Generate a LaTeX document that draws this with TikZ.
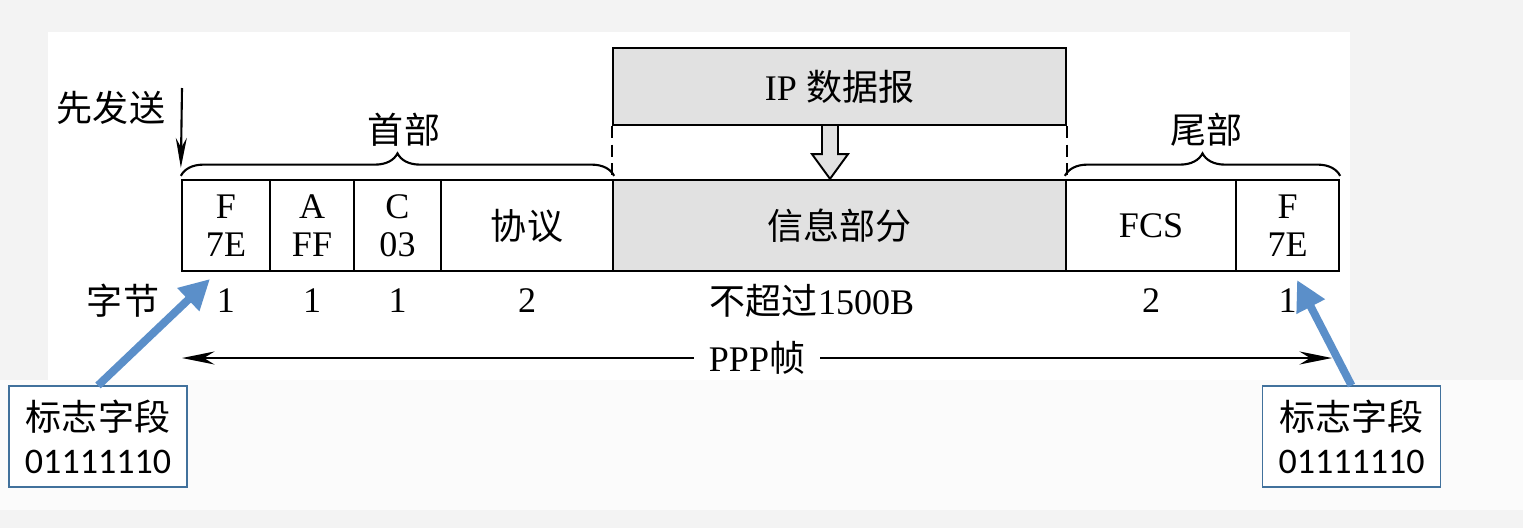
\documentclass[tikz,border=0pt]{standalone}
\usepackage{fontspec}
\setmainfont{Liberation Serif}
\newfontfamily\cjk{Noto Sans CJK SC}
\newfontfamily\tagfont{Carlito}
\usetikzlibrary{arrows.meta,decorations.pathreplacing,calc}

\definecolor{slidebg}{RGB}{243,243,243}
\definecolor{slidelow}{RGB}{251,251,251}
\definecolor{datagray}{RGB}{225,225,225}
\definecolor{tagblue}{RGB}{91,143,201}
\definecolor{tagedge}{RGB}{65,113,156}

\tikzset{
  cell/.style={draw, line width=1.3pt, inner sep=0pt, minimum height=1.82cm, align=center, font=\fontsize{20.5}{21.6}\selectfont},
  txt/.style={inner sep=0pt, font=\fontsize{20.5}{22}\selectfont},
  hbrace/.style={decorate, decoration={brace, amplitude=0.45cm}, line width=1.2pt},
  tagbox/.style={draw=tagedge, line width=0.6pt, fill=white, minimum width=3.56cm, minimum height=2.02cm, align=center, font=\fontsize{20.5}{24.5}\selectfont},
  tagarrow/.style={draw=tagblue, line width=4.5pt, -{Triangle[length=0.6cm,width=0.6cm]}},
  blackhead/.style={line width=1.2pt},
}

\begin{document}
\begin{tikzpicture}[x=0.02cm,y=-0.02cm]
	% slide background
	\fill[slidebg] (0,0) rectangle (1523,528);
	\fill[slidelow] (0,380) rectangle (1523,510);
	\fill[white] (48,32) rectangle (1350,380);
	% frame cells
	\node[cell, minimum width=1.76cm] (f1) at (226,225.5) {F\\7E};
	\node[cell, minimum width=1.68cm] (a) at (312,225.5) {A\\FF};
	\node[cell, minimum width=1.74cm] (c) at (397.5,225.5) {C\\03};
	\node[cell, minimum width=3.44cm] (proto) at (527,225.5) {\cjk 协议};
	\node[cell, fill=datagray, minimum width=9.06cm] (info) at (839.5,225.5) {\cjk 信息部分};
	\node[cell, minimum width=3.40cm] (fcs) at (1151,225.5) {FCS};
	\node[cell, minimum width=2.06cm] (f2) at (1287.5,225.5) {F\\7E};
	% ip datagram
	\node[cell, fill=datagray, minimum width=9.06cm, minimum height=1.54cm] (ip) at (839.5,86.5) {IP {\cjk 数据报}};
	\draw[line width=1.2pt, dash pattern=on 7pt off 3.5pt] (ip.south west) -- (info.north west);
	\draw[line width=1.2pt, dash pattern=on 7pt off 3.5pt] (ip.south east) -- (info.north east);
	\coordinate (top) at ($(ip.south)+(-9.5,0)$);
	\coordinate (tip) at ($(info.north)+(-9.5,0)$);
	\draw[line width=1.1pt, fill=datagray] ($(top)+(-8,0)$) -- ($(top)+(-8,28)$) -- ($(top)+(-18,28)$) -- (tip) -- ($(top)+(18,28)$) -- ($(top)+(8,28)$) -- ($(top)+(8,0)$);
	% braces
	\draw[hbrace] ($(f1.north west)+(0,-3)$) -- ($(proto.north east)+(0,-3)$);
	\draw[hbrace] ($(fcs.north west)+(0,-3)$) -- ($(f2.north east)+(0,-3)$);
	\node[txt] (head) at (404,130) {\cjk 首部};
	\node[txt] (tail) at (1206,130) {\cjk 尾部};
	% send first
	\node[txt] (send) at (111,108) {\cjk 先发送};
	\coordinate (sendtop) at (182,88);
	\draw[blackhead, -{Stealth[length=0.6cm,width=0.22cm]}] (sendtop) -- ($(f1.north west)+(0,-11)$);
	% bytes
	\coordinate (row) at (0,301);
	\node[txt] (bytes) at (123,301) {\cjk 字节};
	\node[txt] (nf1) at (f1 |- row) {1};
	\node[txt] (na) at (a |- row) {1};
	\node[txt] (nc) at (c |- row) {1};
	\node[txt] (nproto) at (proto |- row) {2};
	\node[txt] (ninfo) at (812,301) {{\cjk 不超过}1500B};
	\node[txt] (nfcs) at (fcs |- row) {2};
	\node[txt] (nf2) at (f2 |- row) {1};
	% ppp frame
	\coordinate (pppL) at (182,358);
	\coordinate (pppR) at (1332,358);
	\draw[blackhead, {Stealth[length=0.65cm,width=0.26cm]}-{Stealth[length=0.65cm,width=0.26cm]}] (pppL) -- node[txt, fill=white, inner xsep=0.3cm] (ppp) {PPP{\cjk 帧}} (pppR);
	% flag field notes
	\node[tagbox] (ltag) at (98,436.5) {{\cjk 标志字段}\\{\tagfont 01111110}};
	\node[tagbox] (rtag) at (1351.5,436.5) {{\cjk 标志字段}\\{\tagfont 01111110}};
	\coordinate (ltip) at (210,279);
	\coordinate (rtip) at (1297,280);
	\draw[tagarrow] (ltag.north) -- (ltip);
	\draw[tagarrow] (rtag.north) -- (rtip);
\end{tikzpicture}
\end{document}
